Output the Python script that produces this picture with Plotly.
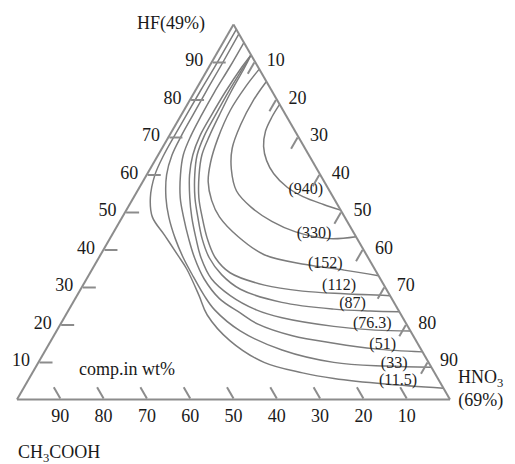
import plotly.graph_objects as go

# ---- Contour readings (HF % and HNO3 %, CH3COOH is the rest) ----
C940_HF = [78.7, 75.4, 71.6, 67.5, 63.7, 60.2, 56.6, 54.1, 52.0, 50.5]
C940_HNO3 = [21.3, 21.2, 21.6, 23.2, 25.8, 29.2, 34.1, 39.0, 44.8, 49.5]

C330_HF = [84.8, 79.7, 73.4, 67.0, 61.4, 55.6, 51.3, 47.5, 44.7, 42.9, 43.4]
C330_HNO3 = [15.2, 14.7, 15.0, 16.2, 18.8, 22.9, 28.4, 35.1, 42.0, 50.6, 56.6]

C152_HF = [88.1, 83.5, 77.2, 69.5, 63.2, 58.1, 53.1, 48.7, 43.4, 38.6, 36.0, 34.5, 33.0]
C152_HNO3 = [11.9, 11.1, 10.7, 11.6, 13.1, 15.1, 18.4, 22.4, 29.4, 37.8, 48.7, 58.3, 67.0]

C112_HF = [91.9, 88.6, 82.0, 75.9, 70.3, 65.2, 59.9, 53.8, 48.7, 42.9, 37.8, 33.8, 30.5, 28.9, 28.2, 27.7]
C112_HNO3 = [8.1, 8.3, 8.4, 8.8, 9.3, 10.1, 12.1, 15.1, 18.4, 22.5, 26.9, 32.3, 41.9, 51.5, 61.5, 72.3]

C87_HF = [91.9, 88.6, 82.0, 75.9, 70.3, 65.2, 59.9, 53.8, 48.7, 42.9, 37.8, 33.3, 29.4, 25.9, 24.1, 23.6, 23.4]
C87_HNO3 = [8.1, 8.0, 7.8, 7.9, 8.1, 9.0, 11.1, 14.2, 17.4, 21.3, 25.5, 30.6, 36.9, 48.2, 61.1, 69.8, 76.6]

C76_HF = [91.9, 88.6, 82.0, 75.9, 70.3, 65.2, 59.9, 53.8, 48.7, 42.9, 37.8, 32.2, 27.7, 23.9, 21.8, 19.5, 18.5, 18.3]
C76_HNO3 = [8.1, 7.6, 7.1, 7.0, 7.1, 8.0, 9.9, 13.0, 16.0, 19.9, 23.6, 28.8, 35.4, 43.3, 50.3, 63.4, 73.5, 81.7]

C51_HF = [95.2, 88.6, 82.0, 75.9, 70.3, 65.2, 59.9, 53.8, 48.7, 42.9, 37.8, 32.2, 26.9, 23.1, 20.1, 17.0, 15.0, 13.5, 12.7]
C51_HNO3 = [4.8, 4.8, 4.6, 4.7, 5.0, 5.8, 7.8, 10.8, 14.1, 18.2, 22.1, 27.1, 33.3, 40.0, 45.6, 55.1, 65.7, 76.0, 87.3]

C33_HF = [97.5, 88.6, 82.0, 75.9, 70.3, 65.2, 59.9, 53.8, 48.7, 42.9, 37.8, 32.7, 27.7, 23.9, 18.3, 13.2, 9.9, 8.9, 8.6]
C33_HNO3 = [2.5, 2.6, 2.6, 2.7, 2.8, 3.2, 4.6, 7.5, 10.7, 15.1, 19.5, 24.4, 29.4, 33.7, 42.4, 54.6, 68.2, 80.7, 91.4]

C11_HF = [98.7, 88.6, 82.0, 75.9, 70.3, 65.2, 59.9, 53.8, 48.7, 43.7, 38.3, 34.8, 27.7, 22.6, 15.7, 9.9, 7.1, 5.6, 4.1, 3.0]
C11_HNO3 = [1.3, 1.3, 1.2, 1.2, 1.2, 1.3, 1.9, 3.9, 6.9, 12.3, 18.1, 21.8, 28.2, 32.6, 41.3, 52.1, 62.4, 70.4, 83.1, 97.0]

# ---- Contour labels ----
LABEL_TEXT = ["(940)", "(330)", "(152)", "(112)", "(87)", "(76.3)", "(51)", "(33)", "(11.5)"]
LABEL_HF = [55.8, 44.2, 36.0, 30.2, 25.4, 20.1, 14.5, 9.4, 4.8]
LABEL_HNO3 = [38.8, 46.5, 53.2, 59.3, 64.8, 72.0, 77.2, 82.4, 85.6]

TICK_VALS = [10, 20, 30, 40, 50, 60, 70, 80, 90]
TICK_LABELS = ["10", "20", "30", "40", "50", "60", "70", "80", "90"]

CURVES = [
    (C940_HF, C940_HNO3), (C330_HF, C330_HNO3), (C152_HF, C152_HNO3),
    (C112_HF, C112_HNO3), (C87_HF, C87_HNO3), (C76_HF, C76_HNO3),
    (C51_HF, C51_HNO3), (C33_HF, C33_HNO3), (C11_HF, C11_HNO3),
]

LINE_COLOR = "#7c7c7c"
AXIS_COLOR = "#8c8c8c"
TEXT_COLOR = "#1a1a1a"
SERIF = "Liberation Serif"
# invisible spacer glyph to push tick labels away from the triangle edge
SPACER_A = "<span style='color:rgba(0,0,0,0)'>-</span>"
SPACER_C = "<span style='color:rgba(0,0,0,0)'>0</span>"

fig = go.Figure()
for hf, hno3 in CURVES:
    ch3 = [max(0.0, 100 - a - c) for a, c in zip(hf, hno3)]
    fig.add_trace(go.Scatterternary(
        a=hf, b=ch3, c=hno3, mode="lines",
        line=dict(color=LINE_COLOR, width=1.5, shape="spline", smoothing=1.0),
        hoverinfo="skip", showlegend=False,
    ))

fig.add_trace(go.Scatterternary(
    a=LABEL_HF, c=LABEL_HNO3,
    b=[100 - a - c for a, c in zip(LABEL_HF, LABEL_HNO3)],
    mode="text", text=LABEL_TEXT,
    textfont=dict(family=SERIF, size=16, color="#1e1e1e"),
    hoverinfo="skip", showlegend=False,
))


def axis_style(labels):
    return dict(
        title=dict(text=""),
        tickmode="array", tickvals=TICK_VALS, ticktext=labels,
        ticks="inside", ticklen=13, tickwidth=1.5, tickcolor=AXIS_COLOR,
        showline=True, linecolor=AXIS_COLOR, linewidth=2,
        showgrid=False,
        tickfont=dict(family=SERIF, size=18, color=TEXT_COLOR),
    )


# the page body adds an 8 px offset; positions below are in window pixels
OFF = 8
TRI_LEFT, TRI_TOP, PW, PH = 16.5, 24, 434, 376
L = TRI_LEFT - OFF
T = TRI_TOP - OFF
fig.update_layout(
    width=515, height=464,
    margin=dict(l=L, r=515 - L - PW, t=T, b=464 - T - PH),
    paper_bgcolor="white",
    showlegend=False,
    font=dict(family=SERIF, color=TEXT_COLOR),
    ternary=dict(
        sum=100, bgcolor="white",
        domain=dict(x=[0, 1], y=[0, 1]),
        aaxis=axis_style([t + SPACER_A for t in TICK_LABELS]),
        baxis=axis_style(TICK_LABELS),
        caxis=axis_style([SPACER_C + t for t in TICK_LABELS]),
    ),
)


def px(x, y):
    return (x - OFF - L) / PW, 1 - (y - OFF - T) / PH


annots = [
    ("HF(49%)", 171, 23),
    ("CH<sub>3</sub>COOH", 59, 453),
    ("HNO<sub>3</sub><br>(69%)", 481, 389),
    ("comp.in wt%", 127, 369),
]
for text, x, y in annots:
    ax, ay = px(x, y)
    fig.add_annotation(
        text=text, x=ax, y=ay, xref="paper", yref="paper",
        showarrow=False, xanchor="center", yanchor="middle",
        font=dict(family=SERIF, size=18, color=TEXT_COLOR),
    )

fig.write_html("out.html")
